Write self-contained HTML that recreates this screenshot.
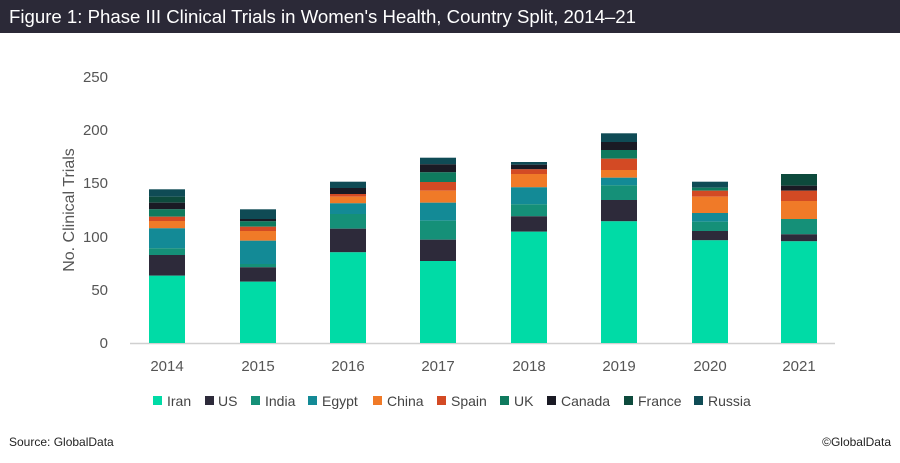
<!DOCTYPE html>
<html><head><meta charset="utf-8"><style>
body{margin:0;width:900px;height:458px;background:#fff;overflow:hidden;font-family:"Liberation Sans",sans-serif}
</style></head><body>
<svg width="900" height="458" xmlns="http://www.w3.org/2000/svg" font-family="Liberation Sans, sans-serif">
<rect x="0" y="0" width="900" height="33" fill="#2b2937"/>
<text x="9" y="23" fill="#fff" font-size="18" textLength="627" lengthAdjust="spacingAndGlyphs">Figure 1: Phase III Clinical Trials in Women's Health, Country Split, 2014–21</text>
<g font-size="15" fill="#555" text-anchor="end">
<text x="108" y="82">250</text><text x="108" y="135">200</text><text x="108" y="188">150</text>
<text x="108" y="242">100</text><text x="108" y="295">50</text><text x="108" y="348">0</text>
</g>
<text transform="translate(74,210) rotate(-90)" font-size="16" fill="#555" text-anchor="middle">No. Clinical Trials</text>
<line x1="130" y1="343.5" x2="835" y2="343.5" stroke="#d0d0d0" stroke-width="1.5"/>
<g font-size="15" fill="#555" text-anchor="middle">
<text x="167" y="371">2014</text><text x="258" y="371">2015</text><text x="348" y="371">2016</text><text x="438" y="371">2017</text>
<text x="529" y="371">2018</text><text x="619" y="371">2019</text><text x="710" y="371">2020</text><text x="799" y="371">2021</text>
</g>
<g transform="translate(149,0)">
<rect y="189.3" width="36" height="7.4" fill="#0f4b55"/><rect y="196.7" width="36" height="6" fill="#0d4a3c"/>
<rect y="202.7" width="36" height="6.6" fill="#1a1a24"/><rect y="209.3" width="36" height="7.4" fill="#0f7a5e"/>
<rect y="216.7" width="36" height="4.3" fill="#d34a24"/><rect y="221" width="36" height="7.3" fill="#f07a28"/>
<rect y="228.3" width="36" height="20" fill="#138a96"/><rect y="248.3" width="36" height="6.7" fill="#159078"/>
<rect y="255" width="36" height="20.7" fill="#2d2a3a"/><rect y="275.7" width="36" height="67.3" fill="#00dba6"/>
</g>
<g transform="translate(240,0)">
<rect y="209.3" width="36" height="9.7" fill="#0f4b55"/><rect y="219" width="36" height="2.3" fill="#1a1a24"/>
<rect y="221.3" width="36" height="5.4" fill="#0f7a5e"/><rect y="226.7" width="36" height="4.3" fill="#d34a24"/>
<rect y="231" width="36" height="9.7" fill="#f07a28"/><rect y="240.7" width="36" height="23.3" fill="#138a96"/>
<rect y="264" width="36" height="3.3" fill="#159078"/><rect y="267.3" width="36" height="14.4" fill="#2d2a3a"/>
<rect y="281.7" width="36" height="61.3" fill="#00dba6"/>
</g>
<g transform="translate(330,0)">
<rect y="181.7" width="36" height="6.3" fill="#0f4b55"/><rect y="188" width="36" height="6" fill="#1a1a24"/>
<rect y="194" width="36" height="2.7" fill="#d34a24"/><rect y="196.7" width="36" height="6.6" fill="#f07a28"/>
<rect y="203.3" width="36" height="10.7" fill="#138a96"/><rect y="214" width="36" height="14.7" fill="#159078"/>
<rect y="228.7" width="36" height="23.6" fill="#2d2a3a"/><rect y="252.3" width="36" height="90.7" fill="#00dba6"/>
</g>
<g transform="translate(420,0)">
<rect y="157.7" width="36" height="6.6" fill="#0f4b55"/><rect y="164.3" width="36" height="8" fill="#1a1a24"/>
<rect y="172.3" width="36" height="9.7" fill="#0f7a5e"/><rect y="182" width="36" height="8.7" fill="#d34a24"/>
<rect y="190.7" width="36" height="12" fill="#f07a28"/><rect y="202.7" width="36" height="18" fill="#138a96"/>
<rect y="220.7" width="36" height="19" fill="#159078"/><rect y="239.7" width="36" height="21.3" fill="#2d2a3a"/>
<rect y="261" width="36" height="82" fill="#00dba6"/>
</g>
<g transform="translate(511,0)">
<rect y="162" width="36" height="2.7" fill="#0f4b55"/><rect y="164.7" width="36" height="4.6" fill="#1a1a24"/>
<rect y="169.3" width="36" height="4.7" fill="#d34a24"/><rect y="174" width="36" height="13.3" fill="#f07a28"/>
<rect y="187.3" width="36" height="17" fill="#138a96"/><rect y="204.3" width="36" height="12" fill="#159078"/>
<rect y="216.3" width="36" height="15.4" fill="#2d2a3a"/><rect y="231.7" width="36" height="111.3" fill="#00dba6"/>
</g>
<g transform="translate(601,0)">
<rect y="133.3" width="36" height="8.7" fill="#0f4b55"/><rect y="142" width="36" height="8" fill="#1a1a24"/>
<rect y="150" width="36" height="8.7" fill="#0f7a5e"/><rect y="158.7" width="36" height="11.3" fill="#d34a24"/>
<rect y="170" width="36" height="7.7" fill="#f07a28"/><rect y="177.7" width="36" height="7.6" fill="#138a96"/>
<rect y="185.3" width="36" height="14.7" fill="#159078"/><rect y="200" width="36" height="21.3" fill="#2d2a3a"/>
<rect y="221.3" width="36" height="121.7" fill="#00dba6"/>
</g>
<g transform="translate(692,0)">
<rect y="181.7" width="36" height="6" fill="#0f4b55"/><rect y="187.7" width="36" height="3" fill="#0f7a5e"/>
<rect y="190.7" width="36" height="6" fill="#d34a24"/><rect y="196.7" width="36" height="16.3" fill="#f07a28"/>
<rect y="213" width="36" height="8.7" fill="#138a96"/><rect y="221.7" width="36" height="9.3" fill="#159078"/>
<rect y="231" width="36" height="9.3" fill="#2d2a3a"/><rect y="240.3" width="36" height="102.7" fill="#00dba6"/>
</g>
<g transform="translate(781,0)">
<rect y="174" width="36" height="11.7" fill="#0d4a3c"/><rect y="185.7" width="36" height="5" fill="#1a1a24"/>
<rect y="190.7" width="36" height="10.3" fill="#d34a24"/><rect y="201" width="36" height="18" fill="#f07a28"/>
<rect y="219" width="36" height="15.3" fill="#159078"/><rect y="234.3" width="36" height="7" fill="#2d2a3a"/>
<rect y="241.3" width="36" height="101.7" fill="#00dba6"/>
</g>
<g font-size="14" fill="#444">
<rect x="153" y="396" width="9" height="9" fill="#00dba6"/><text x="167" y="406">Iran</text>
<rect x="205" y="396" width="9" height="9" fill="#2d2a3a"/><text x="218" y="406">US</text>
<rect x="251" y="396" width="9" height="9" fill="#159078"/><text x="265" y="406">India</text>
<rect x="308" y="396" width="9" height="9" fill="#138a96"/><text x="322" y="406">Egypt</text>
<rect x="373" y="396" width="9" height="9" fill="#f07a28"/><text x="387" y="406">China</text>
<rect x="437" y="396" width="9" height="9" fill="#d34a24"/><text x="451" y="406">Spain</text>
<rect x="500" y="396" width="9" height="9" fill="#0f7a5e"/><text x="514" y="406">UK</text>
<rect x="547" y="396" width="9" height="9" fill="#1a1a24"/><text x="561" y="406">Canada</text>
<rect x="624" y="396" width="9" height="9" fill="#0d4a3c"/><text x="638" y="406">France</text>
<rect x="694" y="396" width="9" height="9" fill="#0f4b55"/><text x="708" y="406">Russia</text>
</g>
<text x="9" y="446" font-size="12" fill="#222">Source: GlobalData</text>
<text x="891" y="446" font-size="12" fill="#222" text-anchor="end">©GlobalData</text>
</svg>
</body></html>
